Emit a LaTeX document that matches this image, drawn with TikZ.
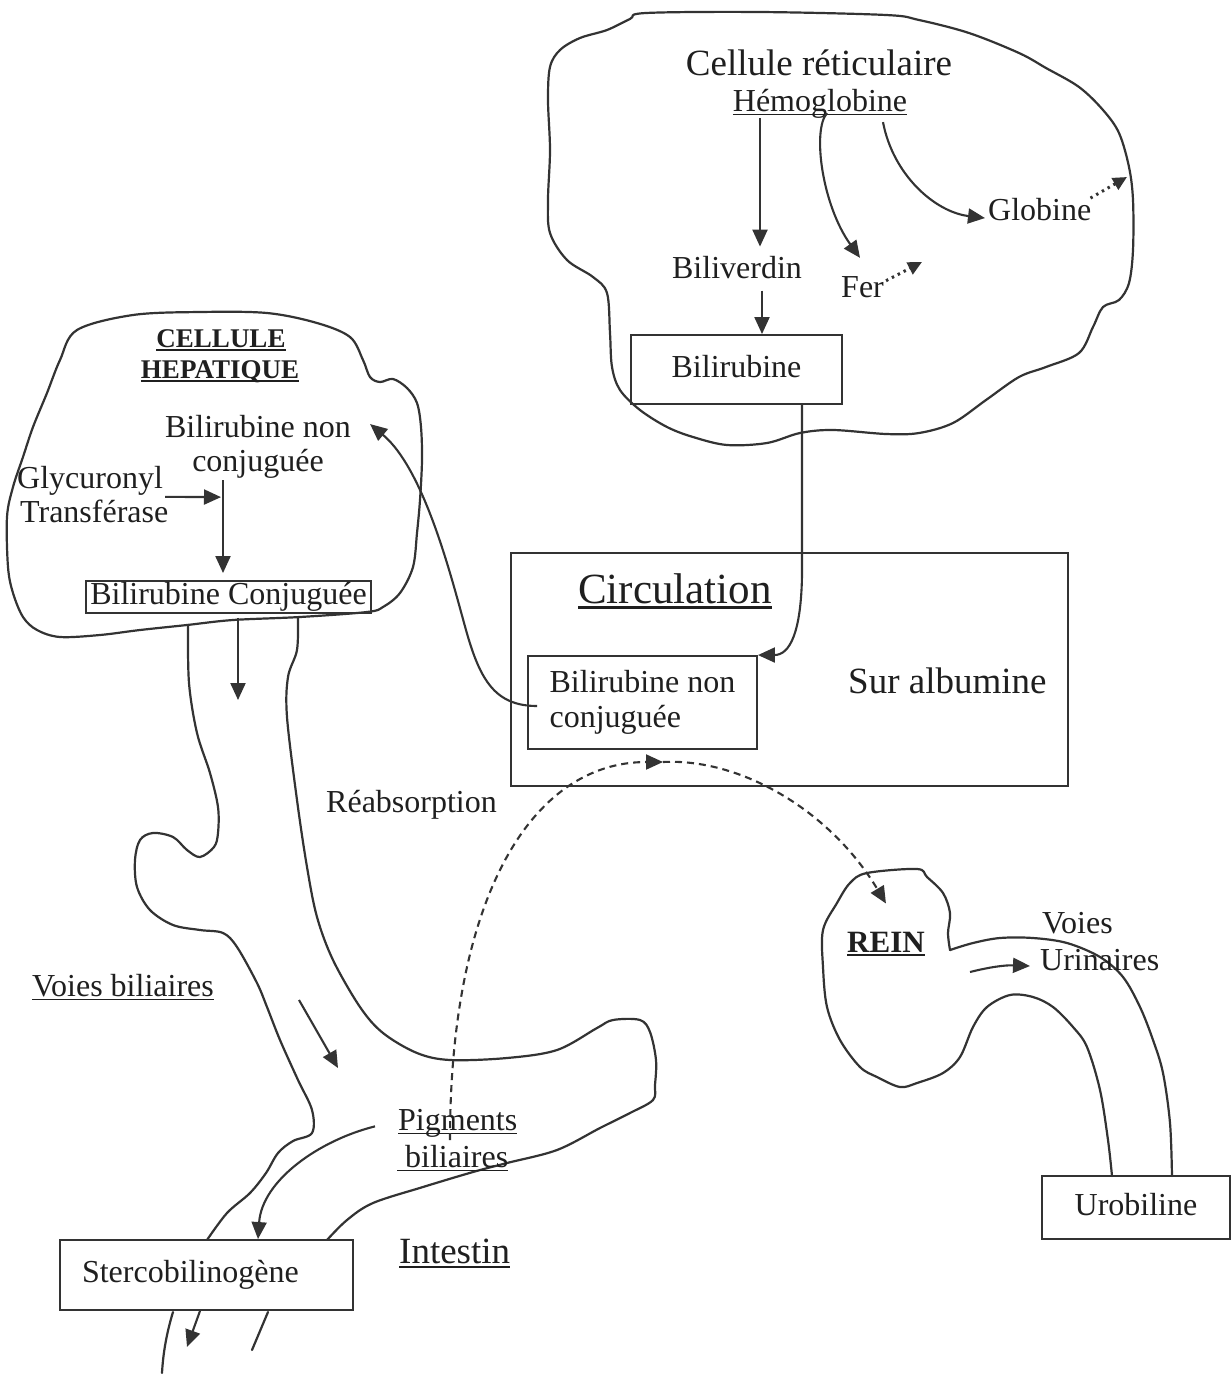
\documentclass[tikz,border=0pt]{standalone}
\usepackage{fontspec}
\setmainfont{Liberation Serif}
\usetikzlibrary{arrows.meta}
% underlined text drawn with a rule of fixed thickness
\newcommand{\ulin}[1]{\setbox0=\hbox{#1}\rlap{\rule[-0.14em]{\wd0}{0.06em}}\box0}
\begin{document}
\begin{tikzpicture}[x=1pt,y=-1pt,
  outline/.style={draw=black!80, line width=2.2pt, line join=round, line cap=round},
  lbl/.style={inner sep=0pt, text=black!88, font=\fontsize{32}{35}\selectfont},
  big/.style={lbl, font=\fontsize{37}{40}\selectfont},
  hdr/.style={lbl, font=\fontsize{27}{30}\selectfont\bfseries},
  boxed/.style={draw=black!80, line width=1.9pt, inner sep=0pt, text=black!88, font=\fontsize{32}{35}\selectfont},
  onebox/.style={boxed, text height=22pt, text depth=7pt},
  flow/.style={draw=black!80, line width=2.1pt, -{Triangle[length=17pt,width=15pt]}},
  dotflow/.style={draw=black!80, line width=3pt, dash pattern=on 2.4pt off 4.2pt, -{Triangle[length=14pt,width=13pt]}},
  dashflow/.style={flow, dash pattern=on 7pt off 5pt},
]
\fill[white] (0,0) rectangle (1231,1374);
\useasboundingbox (0,0) rectangle (1231,1374);

% ---------------- reticular cell ----------------
\draw[outline] plot[smooth cycle, tension=0.55] coordinates {
 (646,13) (760,12) (886,15) (919,20) (969,33) (1019,53) (1046,68) (1079,87)
 (1103,110) (1119,133) (1129,167) (1133,200) (1133,250) (1129,283) (1119,300)
 (1103,307) (1093,327) (1079,353) (1046,367) (1019,377) (986,400) (953,423)
 (919,433) (886,434) (833,430) (800,433) (767,443) (727,445) (693,437)
 (667,427) (640,410) (620,390) (612,367) (610,333) (607,293) (593,277)
 (567,260) (550,233) (548,200) (550,150) (548,100) (550,67) (560,50)
 (580,38) (607,30) (630,19)};

\node[big, anchor=base] (tRet) at (819,75) {Cellule réticulaire};
\node[lbl, anchor=base] (tHemo) at (820,111) {\ulin{Hémoglobine}};
\node[lbl, anchor=base] (tBiliv) at (737,278) {Biliverdin};
\node[lbl, anchor=base west] (tFer) at (841,297) {Fer};
\node[lbl, anchor=base west] (tGlob) at (988,220) {Globine};
\node[onebox, minimum width=211pt, minimum height=69pt] (bBili) at (736.5,369.5) {Bilirubine};

\coordinate (ferOut) at (922,262);
\coordinate (globOut) at (1127,177);

\draw[flow] ([xshift=-60pt]tHemo.south) -- ([xshift=23pt,yshift=9pt]tBiliv.north);
\draw[flow] ([xshift=7pt,yshift=5pt]tHemo.south) .. controls (812,130) and (822,205) .. ([xshift=-2.5pt,yshift=18pt]tFer.north);
\draw[flow] ([xshift=63pt,yshift=-4pt]tHemo.south) .. controls (893,175) and (935,212) .. ([xshift=-3pt,yshift=-9pt]tGlob.west);
\draw[dotflow] ([xshift=2pt,yshift=6pt]tFer.east) -- (ferOut);
\draw[dotflow] ([xshift=-1pt,yshift=11pt]tGlob.east) -- (globOut);
\draw[flow] ([xshift=25pt,yshift=-12pt]tBiliv.south) -- ([xshift=25.5pt]bBili.north);

% ---------------- liver cell ----------------
\draw[outline] plot[smooth cycle, tension=0.55] coordinates {
 (77,330) (133,315) (200,312) (267,313) (317,323) (350,337) (363,360)
 (370,377) (380,382) (393,379) (407,388) (417,403) (421,427) (422,460)
 (420,500) (417,533) (413,567) (400,593) (383,607) (367,612) (300,617)
 (233,620) (187,625) (140,630) (100,635) (60,637) (37,630) (23,617)
 (13,593) (8,567) (7,517) (13,487) (23,457) (33,427) (47,393) (60,360)};

\node[hdr, anchor=base] (tCell) at (221,347) {\ulin{CELLULE}};
\node[hdr, anchor=base] (tHep) at (220,378) {\ulin{HEPATIQUE}};
\node[lbl, anchor=base] (tHnc1) at (258,437) {Bilirubine non};
\node[lbl, anchor=base] (tHnc2) at (258,471) {conjuguée};
\node[lbl, anchor=base west] (tGly) at (17,488) {Glycuronyl};
\node[lbl, anchor=base west] (tTra) at (20,522) {Transférase};
\node[onebox, minimum width=285pt, minimum height=32pt] (bConj) at (228.5,597) {Bilirubine Conjuguée};

\draw[flow] ([xshift=-35pt,yshift=-2pt]tHnc2.south) -- ([xshift=-5.5pt,yshift=7pt]bConj.north);
\draw[flow] ([xshift=2pt,yshift=-16.5pt]tGly.east) -- ([xshift=-37pt,yshift=-19pt]tHnc2.south);

% ---------------- bile ducts and intestine ----------------
\draw[outline] plot[smooth, tension=0.55] coordinates {
 (188,625) (189,683) (197,733) (210,773) (218,807) (218,833) (214,847)
 (200,857) (187,850) (173,837) (153,833) (140,840) (135,860) (137,887)
 (150,910) (173,925) (200,930) (223,933) (237,947) (257,983) (267,1007)
 (280,1040) (298,1080) (312,1110) (312,1133) (293,1141) (278,1153)
 (266,1173) (250,1193) (227,1213) (207,1240)};
\draw[outline] plot[smooth, tension=0.55] coordinates {
 (298,618) (297,650) (288,677) (287,717) (297,800) (307,867) (317,917)
 (333,960) (360,1007) (383,1033) (417,1053) (450,1060) (507,1058)
 (557,1050) (597,1028) (613,1020) (640,1020) (650,1032) (656,1060)
 (655,1085) (653,1100) (630,1113) (600,1128) (557,1150) (507,1163)
 (473,1172) (423,1187) (373,1203) (347,1220) (327,1240)};
\draw[outline] (173,1312) .. controls (166,1335) and (163,1355) .. (162,1373);
\draw[outline] (268,1312) -- (252,1350);

\node[lbl, anchor=base west] (tReab) at (326,812) {Réabsorption};
\node[lbl, anchor=base west] (tVoiesB) at (32,996) {\ulin{Voies biliaires}};
\node[lbl, anchor=base west] (tPig) at (398,1130) {\ulin{Pigments}};
\node[lbl, anchor=base west] (tBil) at (397,1167) {\ulin{\ biliaires}};
\node[big, anchor=base west] (tInt) at (399,1263) {\ulin{Intestin}};
\node[boxed, minimum width=293pt, minimum height=70pt, inner xsep=22pt,
      text width=249pt, align=left, text height=22pt, text depth=7pt] (bSterco) at (206.5,1275) {Stercobilinogène};

\coordinate (ductIn) at (238,700);
\coordinate (ductA) at (299,1000);
\coordinate (ductB) at (338,1068);
\coordinate (stercOut) at (187,1347);
\draw[flow] ([xshift=9.5pt,yshift=-4pt]bConj.south) -- (ductIn);
\draw[flow] (ductA) -- (ductB);
\draw[flow] ([xshift=-23pt,yshift=-3.5pt]tPig.west) .. controls (320,1140) and (262,1180) .. ([xshift=51.5pt]bSterco.north);
\draw[flow] ([xshift=-6.5pt]bSterco.south) -- (stercOut);

% ---------------- blood circulation ----------------
\node[boxed, minimum width=557pt, minimum height=233pt] (bCirc) at (789.5,669.5) {};
\node[lbl, anchor=base, font=\fontsize{43}{46}\selectfont] (tCirc) at (675,603) {\ulin{Circulation}};
\node[boxed, minimum width=229pt, minimum height=93pt, align=left] (bCnc) at (642.5,702.5) {Bilirubine non\\conjuguée};
\node[big, anchor=base west] (tAlb) at (848,693) {Sur albumine};

\draw[flow] ([xshift=65.5pt]bBili.south) -- ++(0,171) .. controls (801,632) and (790,655) .. (bCnc.north east);
\draw[flow] ([xshift=10pt,yshift=-3.5pt]bCnc.west) .. controls (495,706) and (480,680) .. (466,630)
  .. controls (452,580) and (425,470) .. ([xshift=19pt,yshift=2pt]tHnc1.east);

% ---------------- kidney and urinary tract ----------------
\draw[outline] plot[smooth, tension=0.55] coordinates {
 (1112,1176) (1108,1140) (1100,1090) (1087,1047) (1073,1027) (1053,1007)
 (1033,997) (1010,995) (987,1007) (973,1027) (960,1057) (943,1073)
 (917,1083) (900,1087) (877,1077) (860,1067) (840,1040) (827,1007)
 (823,967) (823,930) (837,903) (850,883) (867,873) (917,869) (927,877)
 (943,893) (950,913) (948,933) (950,950)};
\draw[outline] plot[smooth, tension=0.55] coordinates {
 (950,950) (973,943) (1000,938) (1033,938) (1067,943) (1100,957) (1123,977)
 (1140,1007) (1153,1040) (1163,1073) (1170,1123) (1172,1176)};

\node[lbl, anchor=base west, font=\fontsize{31}{34}\selectfont\bfseries] (tRein) at (847,952) {\ulin{REIN}};
\node[lbl, anchor=base west] (tVoiesU) at (1042,933) {Voies};
\node[lbl, anchor=base west] (tUri) at (1040,970) {Urinaires};
\node[onebox, minimum width=188pt, minimum height=63pt] (bUro) at (1136,1207.5) {Urobiline};

\coordinate (urA) at (970,972);
\coordinate (urB) at (1030,966);
\draw[flow] (urA) .. controls (990,967) and (1005,965) .. (urB);

% ---------------- reabsorption path ----------------
\coordinate (reab) at (663,762);
\draw[dashflow] ([xshift=52pt,yshift=-3pt]tPig.south west) .. controls (450,900) and (530,762) .. (reab);
\draw[dashflow] (reab) .. controls (740,758) and (830,810) .. ([yshift=28pt]tRein.north);

\end{tikzpicture}
\end{document}
